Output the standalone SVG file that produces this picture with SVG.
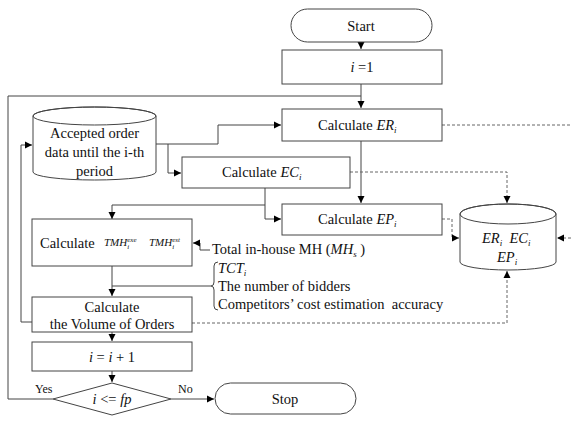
<svg xmlns="http://www.w3.org/2000/svg" width="571" height="426" viewBox="0 0 571 426" font-family="'Liberation Serif', 'DejaVu Serif', serif">
<defs>
<marker id="ah" markerWidth="8" markerHeight="8" refX="7" refY="4" orient="auto" markerUnits="userSpaceOnUse"><path d="M0,0.5 L7,4 L0,7.5 Z" fill="#000"/></marker>
<style>
.box{fill:#fff;stroke:#444;stroke-width:1}
.ln{fill:none;stroke:#444;stroke-width:1}
.dl{fill:none;stroke:#666;stroke-width:1;stroke-dasharray:3,2}
text{font-family:'Liberation Serif','DejaVu Serif',serif;font-size:14.5px;fill:#111}
.c{text-anchor:middle}
.it{font-style:italic}
.sm{font-size:9px}
.tmh{font-size:11px;font-style:italic}
.tiny{font-size:7px}
</style>
</defs>
<rect width="571" height="426" fill="#fff"/>
<g id="connectors">
<path class="ln" d="M361,42 V49" marker-end="url(#ah)"/>
<path class="ln" d="M361,84 V108" marker-end="url(#ah)"/>
<path class="ln" d="M8,96 H361"/>
<path class="ln" d="M156,144 H218 V125 H281" marker-end="url(#ah)"/>
<path class="ln" d="M168,144 V173 H181" marker-end="url(#ah)"/>
<path class="ln" d="M361,141 V203" marker-end="url(#ah)"/>
<path class="ln" d="M265,188 V205 H112 V219" marker-end="url(#ah)"/>
<path class="ln" d="M265,205 V219 H281" marker-end="url(#ah)"/>
<path class="dl" d="M442,125 H571"/>
<path class="dl" d="M350,172 H507 V203" marker-end="url(#ah)"/>
<path class="dl" d="M442,219 H452 V238 H459" marker-end="url(#ah)"/>
<path class="dl" d="M571,238 H557" marker-end="url(#ah)"/>
<path class="dl" d="M192,323 H507 V271" marker-end="url(#ah)"/>
<path class="ln" d="M210,250 H200 V243 H193" marker-end="url(#ah)"/>
<path class="ln" d="M112,266 V296" marker-end="url(#ah)"/>
<path class="ln" d="M112,286 H211"/>
<path class="ln" d="M218,262 Q214,262 214,266 V282 Q214,286 211,286 Q214,286 214,290 V306 Q214,310 218,310"/>
<path class="ln" d="M32,322 H21 V145 H32" marker-end="url(#ah)"/>
<path class="ln" d="M112,332 V341" marker-end="url(#ah)"/>
<path class="ln" d="M112,371 V382" marker-end="url(#ah)"/>
<path class="ln" d="M53,399 H8 V96"/>
<path class="ln" d="M171,399 H214" marker-end="url(#ah)"/>
</g>
<g id="start">
<rect class="box" x="291" y="9" width="141" height="33" rx="16.5"/>
<text class="c" x="361" y="31">Start</text>
</g>
<g id="init">
<rect class="box" x="282" y="50" width="160" height="34"/>
<text class="c" x="362" y="72"><tspan class="it">i</tspan> =1</text>
</g>
<g id="calcER">
<rect class="box" x="282" y="109" width="160" height="32"/>
<text x="318" y="130">Calculate <tspan class="it">ER</tspan><tspan class="it sm" dy="3">i</tspan></text>
</g>
<g id="orderdata">
<path class="box" d="M33,116 A61.5,9 0 0 1 156,116 V172 A61.5,8 0 0 1 33,172 Z"/>
<ellipse class="ln" cx="94.5" cy="116" rx="61.5" ry="9"/>
<text class="c" x="94.5" y="138">Accepted order</text>
<text class="c" x="94.5" y="157">data until the i-th</text>
<text class="c" x="94.5" y="176">period</text>
</g>
<g id="calcEC">
<rect class="box" x="182" y="157" width="168" height="31"/>
<text x="222" y="177">Calculate <tspan class="it">EC</tspan><tspan class="it sm" dy="3">i</tspan></text>
</g>
<g id="calcEP">
<rect class="box" x="282" y="204" width="160" height="31"/>
<text x="318" y="224">Calculate <tspan class="it">EP</tspan><tspan class="it sm" dy="3">i</tspan></text>
</g>
<g id="results">
<path class="box" d="M460,214 A48,10 0 0 1 556,214 V262 A48,8 0 0 1 460,262 Z"/>
<ellipse class="ln" cx="508" cy="214" rx="48" ry="10"/>
<text x="482" y="243"><tspan class="it">ER</tspan><tspan class="it sm" dy="3">i</tspan><tspan dy="-3" xml:space="preserve">  </tspan><tspan class="it">EC</tspan><tspan class="it sm" dy="3">i</tspan></text>
<text x="497" y="262"><tspan class="it">EP</tspan><tspan class="it sm" dy="3">i</tspan></text>
</g>
<g id="calcTMH">
<rect class="box" x="32" y="219" width="160" height="47"/>
<text x="40" y="248">Calculate</text>
<text x="104" y="246" class="tmh">TMH<tspan class="tiny" dy="3">i</tspan><tspan class="tiny" dx="-2" dy="-7">exe</tspan></text>
<text x="149" y="246" class="tmh">TMH<tspan class="tiny" dy="3">i</tspan><tspan class="tiny" dx="-2" dy="-7">est</tspan></text>
</g>
<g id="inputs">
<text x="212" y="254">Total in-house MH (<tspan class="it">MH</tspan><tspan class="it sm" dy="3">s</tspan><tspan dy="-3"> )</tspan></text>
<text x="218" y="273" class="it">TCT<tspan class="sm" dy="3">i</tspan></text>
<text x="218" y="291">The number of bidders</text>
<text x="218" y="309" xml:space="preserve">Competitors’ cost estimation  accuracy</text>
</g>
<g id="calcVolume">
<rect class="box" x="32" y="297" width="160" height="35"/>
<text class="c" x="112" y="312">Calculate</text>
<text class="c" x="112" y="329">the Volume of Orders</text>
</g>
<g id="increment">
<rect class="box" x="32" y="342" width="160" height="29"/>
<text class="c" x="112" y="362"><tspan class="it">i</tspan> = <tspan class="it">i</tspan> + 1</text>
</g>
<g id="decision">
<path class="box" d="M112,383 L171,399 L112,415 L53,399 Z"/>
<text class="c" x="112" y="404"><tspan class="it">i</tspan> &lt;= <tspan class="it">fp</tspan></text>
<text x="35" y="393" style="font-size:12px">Yes</text>
<text x="178" y="393" style="font-size:12px">No</text>
</g>
<g id="stop">
<rect class="box" x="215" y="383" width="141" height="31" rx="15.5"/>
<text class="c" x="285" y="404">Stop</text>
</g>
</svg>
